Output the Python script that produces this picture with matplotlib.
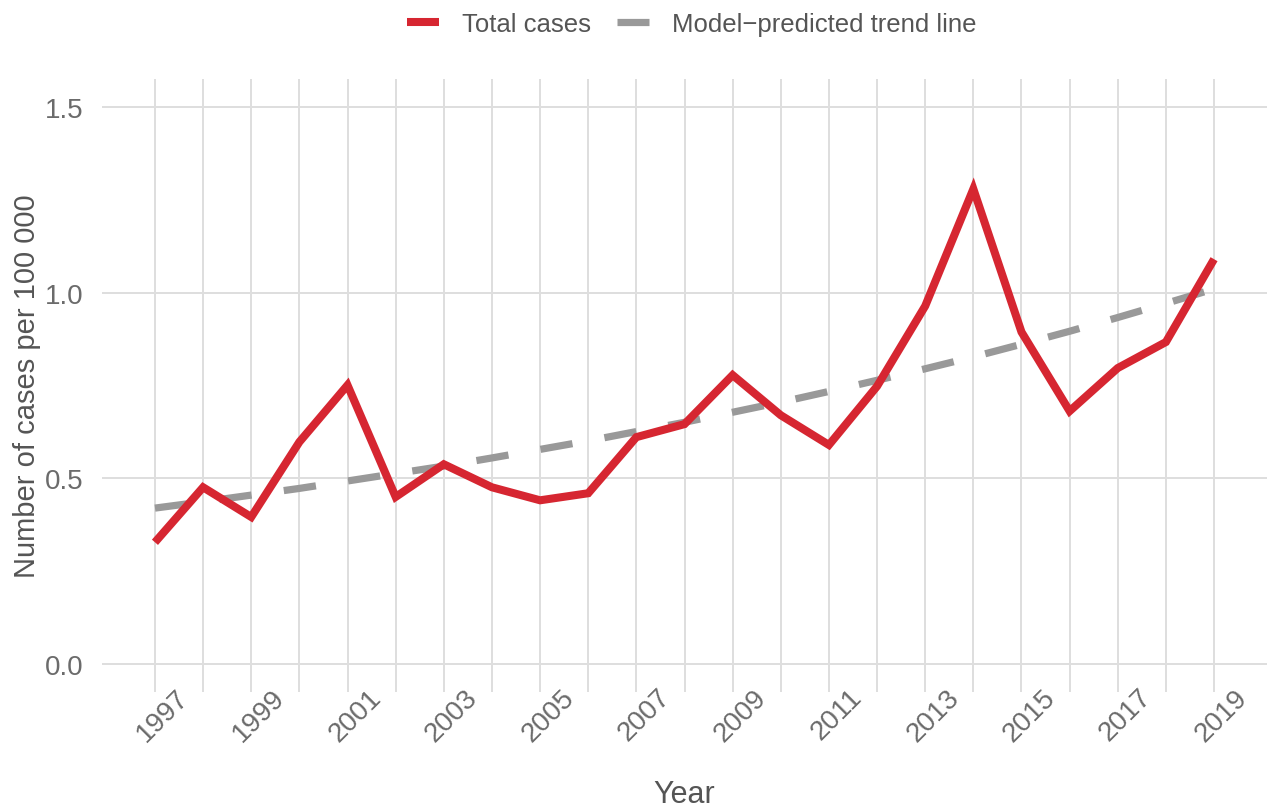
import matplotlib
matplotlib.use("Agg")
import matplotlib.pyplot as plt
import matplotlib.transforms as mtransforms
from matplotlib.lines import Line2D

# === Data === #
years = list(range(1997, 2020))
total_cases = [0.328, 0.476, 0.396, 0.598, 0.751, 0.450, 0.538, 0.476, 0.441, 0.460,
               0.611, 0.646, 0.778, 0.670, 0.590, 0.748, 0.964, 1.279, 0.894, 0.681,
               0.797, 0.867, 1.090]
trend = [0.420, 0.437, 0.455, 0.473, 0.493, 0.513, 0.533, 0.555, 0.578, 0.601,
         0.626, 0.651, 0.678, 0.705, 0.734, 0.764, 0.795, 0.827, 0.861, 0.896,
         0.933, 0.971, 1.010]
y_ticks = [0.0, 0.5, 1.0, 1.5]

red = "#d62631"
grey = "#999999"
text_grey = "#6b6b6b"
grid_grey = "#dedede"

plt.rcParams['font.family'] = ['Liberation Sans', 'DejaVu Sans']

fig = plt.figure(figsize=(12.67, 8.12), dpi=100)
ax = fig.add_axes([102 / 1267, 1 - 693 / 812, 1 - 102 / 1267, (693 - 80) / 812])

ax.plot(years, trend, color=grey, linewidth=5.2, dashes=(4.5, 4.5),
        dash_capstyle='butt', zorder=2)
ax.plot(years, total_cases, color=red, linewidth=5.8, solid_capstyle='butt',
        solid_joinstyle='miter', zorder=3)

ax.set_xlim(1995.9, 2020.1)
ax.set_ylim(-0.075, 1.575)
ax.set_yticks(y_ticks)
ax.set_yticklabels([f"{v:.1f}" for v in y_ticks])
ax.set_xticks(years)
ax.set_xticklabels([str(y) if (y - 1997) % 2 == 0 else "" for y in years])

ax.grid(True, color=grid_grey, linewidth=1.4)
ax.set_axisbelow(True)
for s in ax.spines.values():
    s.set_visible(False)
ax.tick_params(axis='both', length=0, labelcolor=text_grey, labelsize=20)
ax.tick_params(axis='y', pad=13)
ax.tick_params(axis='x', pad=-6)

offset = mtransforms.ScaledTranslation(8 / 100, 0, fig.dpi_scale_trans)
for lab in ax.get_xticklabels():
    lab.set_rotation(45)
    lab.set_ha('center')
    lab.set_va('top')
    lab.set_transform(lab.get_transform() + offset)

ax.set_xlabel("Year", fontsize=22, color="#555555", labelpad=24)
ax.set_ylabel("Number of cases per 100 000", fontsize=21, color="#555555", va='center')
ax.yaxis.set_label_coords((27 - 102) / 1165, 0.5)

handles = [Line2D([], [], color=red, linewidth=5.8, solid_capstyle='butt'),
           Line2D([], [], color=grey, linewidth=5.2, solid_capstyle='butt')]
fig.legend(handles, ["Total cases", "Model\u2212predicted trend line"],
           loc='center', bbox_to_anchor=(692 / 1267, 1 - 25 / 812), ncol=2,
           frameon=False, fontsize=18.5, handlelength=1.25, handletextpad=0.9,
           columnspacing=1.0, labelcolor="#555555")

fig.savefig("out.png", dpi=100)
